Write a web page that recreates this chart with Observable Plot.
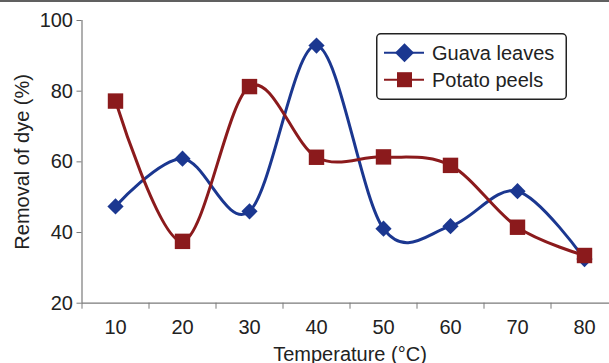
<!DOCTYPE html>
<html>
<head>
<meta charset="utf-8">
<script src="https://cdn.jsdelivr.net/npm/d3@7"></script>
<script src="https://cdn.jsdelivr.net/npm/@observablehq/plot@0.6"></script>
<style>
  html, body { margin: 0; padding: 0; background: #fff; overflow: hidden; }
  #wrap { width: 609px; border-top: 2px solid #606060; }
  #legend { position: absolute; left: 376px; top: 33px; }
  svg { display: block; font-family: "Liberation Sans", Arial, sans-serif; }
</style>
</head>
<body>
<div id="wrap"></div>
<script>
// ---- data ----
const temperatures = [10, 20, 30, 40, 50, 60, 70, 80];
const guavaLeaves = [47.4, 60.9, 46.0, 92.9, 41.1, 41.8, 51.7, 32.5];
const potatoPeels = [77.2, 37.5, 81.3, 61.3, 61.4, 59.0, 41.5, 33.5];
const yTicks = [20, 40, 60, 80, 100];
const xTickLabels = [10, 20, 30, 40, 50, 60, 70, 80];
const xBoundaries = [5, 15, 25, 35, 45, 55, 65, 75, 85];
const seriesNames = ["Guava leaves", "Potato peels"];
const blue = "#1b3790";
const red = "#8b1a1c";
const axisGray = "#7a7a7a";
const textColor = "#222";

const guavaData = temperatures.map((t, i) => ({t, v: guavaLeaves[i]}));
const potatoData = temperatures.map((t, i) => ({t, v: potatoPeels[i]}));

const chart = Plot.plot({
  width: 609,
  height: 361,
  marginLeft: 81.5,
  marginRight: -8.5,
  marginTop: 18,
  marginBottom: 60.3,
  style: {fontFamily: "'Liberation Sans', Arial, sans-serif", fontSize: "20px", color: textColor, overflow: "hidden"},
  x: {type: "linear", domain: [5, 85], label: null},
  y: {domain: [20, 100], label: null},
  marks: [
    Plot.ruleY([20], {stroke: axisGray, strokeWidth: 1.2}),
    Plot.ruleX([5], {y1: 20, y2: 100, stroke: axisGray, strokeWidth: 1.2}),
    Plot.axisY({ticks: yTicks, tickSize: 5, tickPadding: 4, stroke: axisGray, fill: textColor, fontSize: 20, label: null}),
    Plot.axisX({ticks: xBoundaries, tickSize: 6, stroke: axisGray, tickFormat: () => "", label: null}),
    Plot.axisX({ticks: xTickLabels, tickSize: 0, tickPadding: 16.6, fill: textColor, fontSize: 20, label: null}),
    Plot.text(["Temperature (°C)"], {frameAnchor: "bottom", textAnchor: "middle", lineAnchor: "bottom", dy: 57.6, fontSize: 20, fill: textColor}),
    Plot.text(["Removal of dye (%)"], {frameAnchor: "left", textAnchor: "middle", lineAnchor: "bottom", rotate: -90, dx: -53.5, fontSize: 20, fill: textColor}),
    Plot.line(guavaData, {x: "t", y: "v", stroke: blue, strokeWidth: 3, curve: "cardinal"}),
    Plot.dot(guavaData, {x: "t", y: "v", symbol: "diamond2", r: 7.3, fill: blue, stroke: null}),
    Plot.line(potatoData, {x: "t", y: "v", stroke: red, strokeWidth: 3, curve: "cardinal"}),
    Plot.dot(potatoData, {x: "t", y: "v", symbol: "square", r: 8.7, fill: red, stroke: null})
  ]
});
document.getElementById("wrap").appendChild(chart);

// ---- legend ----
const lg = d3.select("body").append("svg").attr("id", "legend").attr("width", 192).attr("height", 68);
lg.append("rect").attr("x", 0.75).attr("y", 0.75).attr("width", 189.5).attr("height", 65.5)
  .attr("rx", 4).attr("fill", "#fff").attr("stroke", "#222").attr("stroke-width", 1.5);
const rows = [
  {name: seriesNames[0], color: blue, cy: 19.7, sym: "diamond"},
  {name: seriesNames[1], color: red, cy: 46.7, sym: "square"}
];
rows.forEach(r => {
  lg.append("line").attr("x1", 8).attr("x2", 48).attr("y1", r.cy).attr("y2", r.cy)
    .attr("stroke", r.color).attr("stroke-width", 2);
  if (r.sym === "diamond") {
    lg.append("path").attr("d", `M28.5,${r.cy - 9.5}L38,${r.cy}L28.5,${r.cy + 9.5}L19,${r.cy}Z`).attr("fill", r.color);
  } else {
    lg.append("rect").attr("x", 21).attr("y", r.cy - 7.5).attr("width", 15).attr("height", 15).attr("fill", r.color);
  }
  lg.append("text").attr("x", 56).attr("y", r.cy).attr("dy", "0.35em")
    .attr("font-size", 20).attr("fill", textColor).text(r.name);
});
</script>
</body>
</html>
